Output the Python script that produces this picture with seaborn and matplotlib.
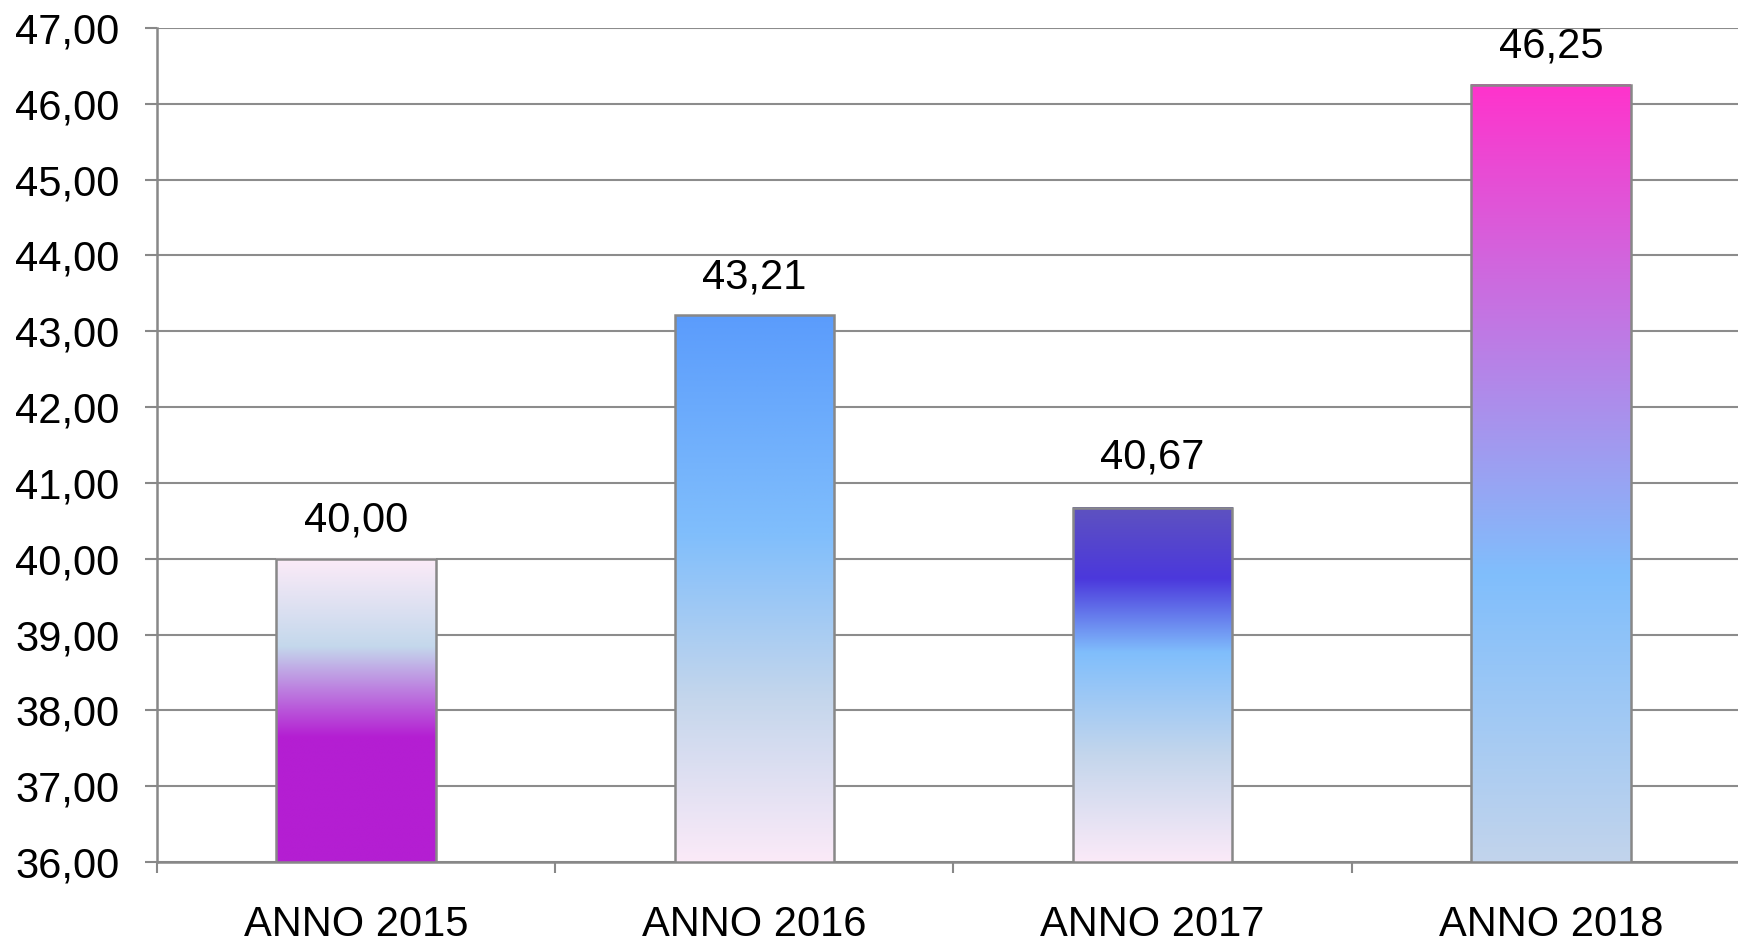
import numpy as np
import pandas as pd
import matplotlib
matplotlib.use("Agg")
import matplotlib.pyplot as plt
import seaborn as sns
from matplotlib.colors import LinearSegmentedColormap
from matplotlib.ticker import FuncFormatter

# data
categories = ["ANNO 2015", "ANNO 2016", "ANNO 2017", "ANNO 2018"]
values = [40.00, 43.21, 40.67, 46.25]
y_ticks = [36, 37, 38, 39, 40, 41, 42, 43, 44, 45, 46, 47]

# gradient stops per bar (bottom -> top of the visible bar)
gradients = [
    [(0.0, "#b41ed2"), (0.41, "#b41ed2"), (0.71, "#c4d8ec"), (1.0, "#fcebf8")],
    [(0.0, "#fbeaf8"), (0.30, "#c4d6ec"), (0.60, "#80befc"), (1.0, "#5b9cfc")],
    [(0.0, "#fbeaf8"), (0.30, "#c4d6ec"), (0.59, "#80befc"), (0.80, "#4b38dc"), (1.0, "#5e52c0")],
    [(0.0, "#c2d4ec"), (0.37, "#80befc"), (1.0, "#ff33cc")],
]
# label offset above each bar, in points (the 2017 label sits higher)
label_pad = [13, 13, 22, 13]

df = pd.DataFrame({"anno": categories, "valore": values})

sns.set_theme(style="white")
plt.rcParams['font.family'] = ['Liberation Sans', 'DejaVu Sans']

fig = plt.figure(figsize=(17.38, 9.43), dpi=100)
ax = fig.add_axes([157 / 1738, 81 / 943, 1593 / 1738, 834 / 943])

sns.barplot(data=df, x="anno", y="valore", width=0.4, facecolor="none",
            edgecolor="#888888", linewidth=1.8, ax=ax, zorder=3)

ymin, ymax = 36, 47
grad = np.linspace(0, 1, 512).reshape(-1, 1)
for patch, stops in zip(ax.patches, gradients):
    x0 = patch.get_x()
    w = patch.get_width()
    h = patch.get_height()
    cmap = LinearSegmentedColormap.from_list("g", stops)
    ax.imshow(grad, cmap=cmap, origin="lower", aspect="auto",
              extent=[x0, x0 + w, ymin, h], zorder=2.5, interpolation="bilinear")

ax.set_xlim(-0.5, 3.5)
ax.set_ylim(ymin, ymax)
ax.set_yticks(y_ticks)
ax.yaxis.set_major_formatter(FuncFormatter(lambda v, p: f"{v:.2f}".replace(".", ",")))

ax.set_axisbelow(True)
ax.yaxis.grid(True, color="#8c8c8c", linewidth=1.5)
ax.xaxis.grid(False)

for s in ["top", "right"]:
    ax.spines[s].set_visible(False)
for s in ["left", "bottom"]:
    ax.spines[s].set_color("#888888")
    ax.spines[s].set_linewidth(1.8)

ax.set_xticks([-0.5, 0.5, 1.5, 2.5, 3.5], minor=True)
ax.tick_params(axis="x", which="minor", bottom=True, length=8, width=1.5, color="#888888")
ax.tick_params(axis="x", which="major", length=0, pad=31, labelsize=30, labelcolor="black")
ax.tick_params(axis="y", left=True, length=9, width=1.5, color="#888888",
               pad=18, labelsize=30, labelcolor="black")

ax.set_xlabel("")
ax.set_ylabel("")

for patch, v, pad in zip(ax.patches, values, label_pad):
    ax.annotate(f"{v:.2f}".replace(".", ","),
                (patch.get_x() + patch.get_width() / 2, patch.get_height()),
                xytext=(0, pad), textcoords="offset points",
                ha="center", va="bottom", fontsize=30, color="black")

fig.savefig("out.png", dpi=100)
